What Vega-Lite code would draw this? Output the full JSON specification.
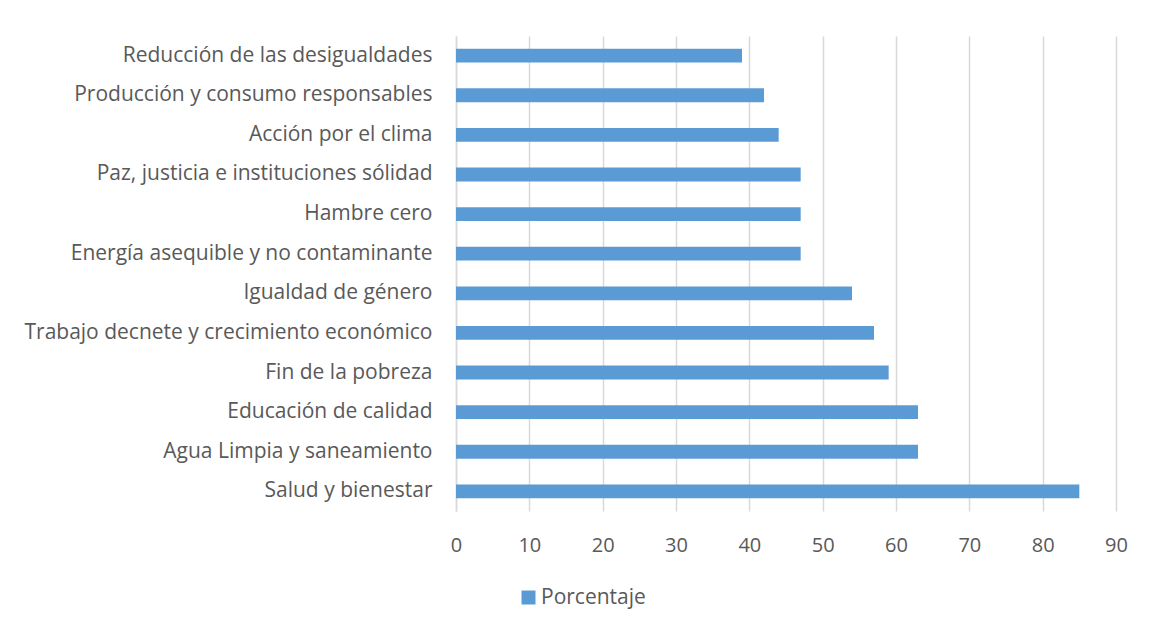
{
  "$schema": "https://vega.github.io/schema/vega-lite/v6.json",
  "autosize": {"type": "none"},
  "width": 660,
  "height": 475,
  "padding": {"left": 456, "top": 36, "right": 36, "bottom": 120},
  "background": "white",
  "data": {
    "values": [
      {"objetivo": "Reducción de las desigualdades\u00a0", "valor": 39, "serie": "Porcentaje"},
      {"objetivo": "Producción y consumo responsables", "valor": 42, "serie": "Porcentaje"},
      {"objetivo": "Acción por el clima", "valor": 44, "serie": "Porcentaje"},
      {"objetivo": "Paz, justicia e instituciones sólidad", "valor": 47, "serie": "Porcentaje"},
      {"objetivo": "Hambre cero", "valor": 47, "serie": "Porcentaje"},
      {"objetivo": "Energía asequible y no contaminante\u00a0", "valor": 47, "serie": "Porcentaje"},
      {"objetivo": "Igualdad de género", "valor": 54, "serie": "Porcentaje"},
      {"objetivo": "Trabajo decnete y crecimiento económico", "valor": 57, "serie": "Porcentaje"},
      {"objetivo": "Fin de la pobreza", "valor": 59, "serie": "Porcentaje"},
      {"objetivo": "Educación de calidad", "valor": 63, "serie": "Porcentaje"},
      {"objetivo": "Agua Limpia y saneamiento", "valor": 63, "serie": "Porcentaje"},
      {"objetivo": "Salud y bienestar", "valor": 85, "serie": "Porcentaje"}
    ]
  },
  "mark": {"type": "bar"},
  "encoding": {
    "y": {
      "field": "objetivo",
      "type": "nominal",
      "sort": null,
      "title": null,
      "scale": {"paddingInner": 0.65, "paddingOuter": 0.32},
      "axis": {
        "ticks": false,
        "labelPadding": 24,
        "labelFont": "Open Sans",
        "labelFontSize": 21,
        "labelColor": "#595959",
        "domainColor": "#D9D9D9",
        "domainWidth": 1.5,
        "grid": false,
        "labelLimit": 600
      }
    },
    "x": {
      "field": "valor",
      "type": "quantitative",
      "title": null,
      "scale": {"domain": [0, 90], "nice": false},
      "axis": {
        "values": [0, 10, 20, 30, 40, 50, 60, 70, 80, 90],
        "ticks": false,
        "domain": false,
        "labelFlush": false,
        "labelPadding": 24,
        "labelFont": "Open Sans",
        "labelFontSize": 20,
        "labelColor": "#595959",
        "gridColor": "#D9D9D9",
        "gridWidth": 1.5
      }
    },
    "color": {
      "field": "serie",
      "type": "nominal",
      "scale": {"range": ["#5B9BD5"]},
      "legend": {
        "title": null,
        "orient": "none",
        "legendX": 62,
        "legendY": 551,
        "symbolType": "square",
        "symbolSize": 196,
        "symbolStrokeWidth": 0,
        "labelFont": "Open Sans",
        "labelFontSize": 21,
        "labelColor": "#595959",
        "labelOffset": 2
      }
    }
  },
  "config": {"view": {"stroke": null}}
}
